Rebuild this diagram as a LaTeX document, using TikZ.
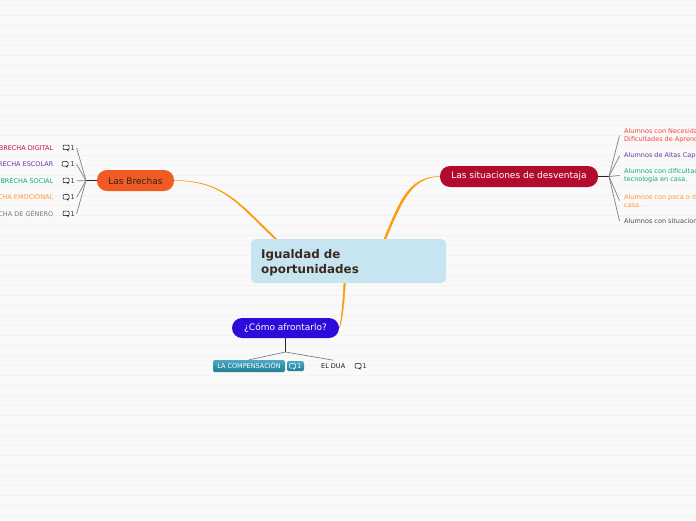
\documentclass[tikz,border=0pt]{standalone}
\usepackage{fontspec}
\setmainfont{DejaVu Sans}
\usepackage{xcolor}
\usetikzlibrary{arrows.meta, positioning, calc, backgrounds}
\definecolor{cBack}{HTML}{F9F9F9}
\definecolor{cGrid}{HTML}{F3F3F3}
\definecolor{cRoot}{HTML}{C6E5F1}
\definecolor{cRootText}{HTML}{3A2A20}
\definecolor{cWire}{HTML}{FF9A0E}
\definecolor{cBrecha}{HTML}{F15A22}
\definecolor{cDesv}{HTML}{B20B2E}
\definecolor{cComo}{HTML}{2F0BDB}
\definecolor{cTeal}{HTML}{2B9ABA}
\definecolor{cTwig}{HTML}{808080}
\definecolor{cRed}{HTML}{F4433C}
\definecolor{cDigital}{HTML}{C2143C}
\definecolor{cPurple}{HTML}{6A3A9C}
\definecolor{cGreen}{HTML}{0AAE62}
\definecolor{cOrange}{HTML}{FF9A2E}
\definecolor{cGray}{HTML}{77797C}
\tikzset{
  topic/.style={rounded corners=10pt, inner sep=0pt, font=\fontsize{9}{11}\selectfont},
  leaf/.style={inner sep=0pt, font=\fontsize{6.5}{8}\selectfont},
  twig/.style={cTwig, line width=0.7pt},
  stem/.style={black!85, line width=1.1pt},
  wire/.style={cWire, draw=cWire, line width=0.5pt},
  chat/.pic={
    \draw[#1, line width=0.5pt, rounded corners=0.8pt] (-3,-2.4) rectangle (3,2);
    \draw[#1, line width=0.5pt] (1,2)--(2.2,3.2)--(2.2,2);
  },
  chat/.default={black!60},
  count/.style={inner sep=0pt, text=black!80, font=\fontsize{6.6}{8}\selectfont}
}

\begin{document}
\begin{tikzpicture}[x=1pt, y=-1pt]
  \useasboundingbox (0,0) rectangle (696,520);
  \clip (0,0) rectangle (696,520);
  \node[fill=cRoot, rounded corners=5pt, minimum width=195pt, minimum height=44pt, inner sep=0pt] (root) at (348.5,261) {};
  \node[anchor=west, align=left, inner sep=0pt, text=cRootText, font=\fontsize{11.9}{15}\bfseries\selectfont] (roottext) at (261,262.5) {Igualdad de\\oportunidades};
  \node[topic, fill=cBrecha, text=black!85, minimum width=77pt, minimum height=21pt, text depth=0pt] (brechas) at (135.5,180.5) {\raisebox{-0.6pt}{Las Brechas}};
  \node[topic, fill=cDesv, text=white, minimum width=158pt, minimum height=21pt] (desv) at (519,176.5) {\raisebox{-0.6pt}{Las situaciones de desventaja}};
  \node[topic, fill=cComo, text=white, minimum width=107pt, minimum height=20pt] (como) at (285.5,328) {¿Cómo afrontarlo?};

  % left branch
  \coordinate (jl) at (86,180.5);
  \draw[stem] (brechas.west)--(jl);
  \foreach \n/\y/\c/\t/\ix in {a/147.5/cDigital/BRECHA DIGITAL/66,b/164/cPurple/BRECHA ESCOLAR/65,c/180.5/cGreen/BRECHA SOCIAL/66,d/197/cOrange/BRECHA EMOCIONAL/66,e/213.5/cGray/BRECHA DE GÉNERO/66}{
    \node[leaf, anchor=east, text=\c] (l\n) at (53.5,\y+0.3) {\t};
    \pic at (\ix,\y) {chat};
    \node[count, anchor=west] (cl\n) at (70.5,\y+0.4) {1};
    \draw[twig] (jl)--($(cl\n.east)+(1.5,0)$);
  }

  % right branch
  \coordinate (jr) at (609,176.5);
  \draw[stem] (desv.east)--(jr);
  \node[leaf, anchor=west, align=left, text=cRed] (r1) at (624,135.5) {Alumnos con Necesidades\\Dificultades de Aprendizaje};
  \node[leaf, anchor=west, text=cPurple] (r2) at (624,156) {Alumnos de Altas Capacidades};
  \node[leaf, anchor=west, align=left, text=cGreen] (r3) at (624,175.5) {Alumnos con dificultades\\tecnología en casa.};
  \node[leaf, anchor=west, align=left, text=cOrange] (r4) at (624,200.5) {Alumnos con poca o dedicación\\casa.};
  \node[leaf, anchor=west, text=black!70] (r5) at (624,221) {Alumnos con situaciones};
  \foreach \n in {1,...,5}{
    \draw[twig] (jr)--($(r\n.west)+(-4.5,0)$);
  }

  % bottom branch
  \coordinate (jb) at (285.5,352);
  \draw[stem] (como.south)--(jb);
  \node[top color=cTeal!85, bottom color=cTeal!80!black, rounded corners=1.5pt, minimum width=72pt, minimum height=12pt, inner sep=0pt] (comp) at (249,366) {};
  \node[leaf, text=white] (comptext) at (249,365.4) {LA COMPENSACIÓN};
  \node[top color=cTeal!85, bottom color=cTeal!80!black, rounded corners=1.5pt, minimum width=17pt, minimum height=10pt, inner sep=0pt] (compbadge) at (295.5,366) {};
  \pic at (292.5,366) {chat={white}};
  \node[count, anchor=west, text=white] (compcount) at (297,366) {1};
  \node[leaf, anchor=west, text=black!90] (dua) at (321,365.8) {EL DUA};
  \pic at (358,366) {chat};
  \node[count, anchor=west] (duacount) at (362.5,366) {1};
  \draw[twig] (jb)--(comp.north);
  \draw[twig] (jb)--($(dua.north)+(0,-3)$);

  \begin{scope}[on background layer]
    \fill[cBack] (0,0) rectangle (696,520);
    \foreach \y in {5,15,...,515}{\draw[cGrid, line width=0.8pt] (0,\y)--(696,\y);}
    \fill[wire] (brechas.east) .. controls +(50,0) and (240,204) .. ($(root.north west)+(28.8,3)$)
      -- ($(root.north west)+(27,3)$) .. controls (238.5,205) and +(50,0.2) .. (brechas.east) -- cycle;
    \fill[wire] (desv.west) .. controls +(-28,0) and (401,202) .. ($(root.north west)+(134,3)$)
      -- ($(root.north west)+(132,3)$) .. controls (399.5,202) and +(-32,0.2) .. (desv.west) -- cycle;
    \fill[wire] (como.east) .. controls +(3,-6) and (344,305) .. ($(root.south west)+(94.8,-3)$)
      -- ($(root.south west)+(93.2,-3)$) .. controls (342.8,305) and +(2,-5) .. (como.east) -- cycle;
  \end{scope}
\end{tikzpicture}
\end{document}
